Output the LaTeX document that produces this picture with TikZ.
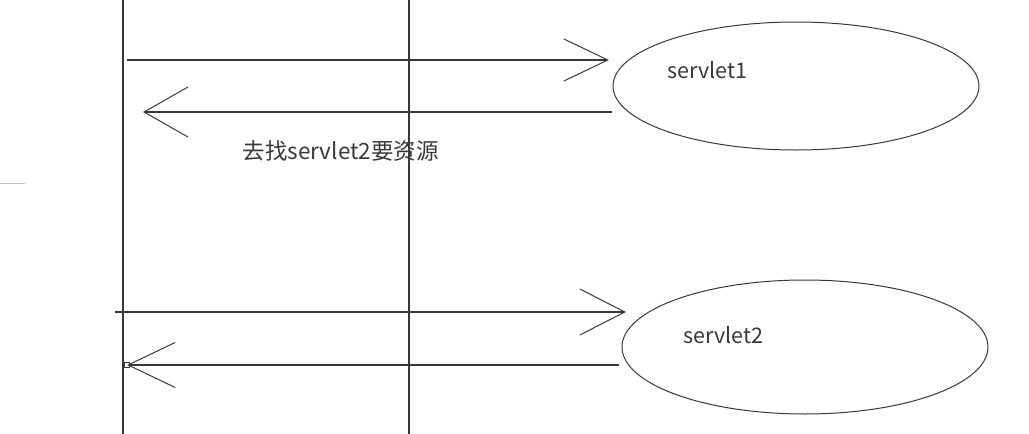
\documentclass[tikz,border=0pt]{standalone}
\usepackage{fontspec}
\setmainfont{Noto Sans CJK SC}
\usetikzlibrary{arrows.meta,positioning,shapes.geometric}
\definecolor{ink}{HTML}{383838}
\definecolor{faint}{HTML}{C8C8C8}

\begin{document}
\begin{tikzpicture}[
      x=1pt,y=-1pt,
      line width=1.1pt,
      every path/.style={draw=ink},
      servlet/.style={ellipse,draw=ink,line width=1pt,minimum width=366pt,minimum height=128pt,inner sep=0pt},
      txt/.style={anchor=west,inner sep=0pt,text=ink,font=\fontsize{21.5}{25}\selectfont},
      req/.style={-{Straight Barb[length=44pt,width=42pt,line width=1pt]}},
      resp/.style={-{Straight Barb[length=44pt,width=50pt,line width=1pt]}}
    ]
    \useasboundingbox[draw=none] (0,0) rectangle (1029,434);

    % Lifelines
    \coordinate (L1top) at (123,0);
    \coordinate (L1bot) at (123,434);
    \coordinate (L2top) at (409,0);
    \coordinate (L2bot) at (409,434);
    \draw (L1top) -- (L1bot);
    \draw (L2top) -- (L2bot);

    % Servlets
    \node[servlet] (S1) at (796,86) {};
    \node[servlet,minimum height=134pt] (S2) at (805,347) {};
    \node[txt] (S1label) at (667,70) {servlet1};
    \node[txt] (S2label) at (683,335) {servlet2};

    % Request and response, servlet1
    \coordinate (A1) at (127,60);
    \coordinate (B1) at (609,60);
    \coordinate (C1) at (612,112);
    \coordinate (D1) at (143,112);
    \draw[req] (A1) -- (B1);
    \draw[resp] (C1) -- (D1);
    \node[txt,font=\fontsize{22.5}{26}\selectfont] (note) at (242,151) {去找servlet2要资源};

    % Request and response, servlet2
    \coordinate (A2) at (115,312);
    \coordinate (B2) at (626,312);
    \coordinate (C2) at (619,365);
    \coordinate (D2) at (127,365);
    \draw[req,-{Straight Barb[length=45pt,width=46pt,line width=1pt]}] (A2) -- (B2);
    \draw[resp,-{Straight Barb[length=47pt,width=45pt,line width=1pt]}] (C2) -- (D2);
    \node[draw=ink,line width=0.8pt,minimum size=5pt,inner sep=0pt] (dot) at (D2) {};

    % stray mark
    \coordinate (M1) at (0,183);
    \coordinate (M2) at (25,183);
    \draw[faint,line width=0.8pt] (M1) -- (M2);
  \end{tikzpicture}
\end{document}
